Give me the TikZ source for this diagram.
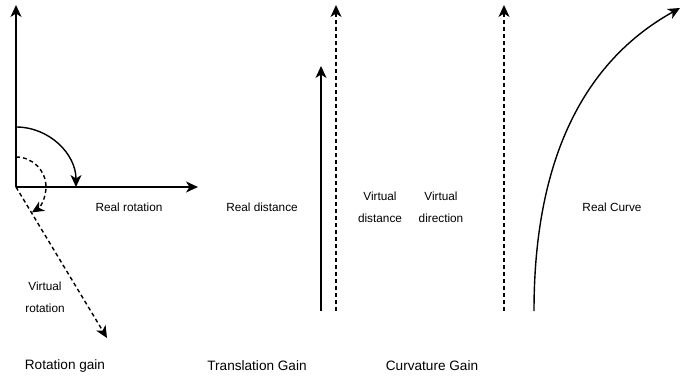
\documentclass[tikz,border=0pt]{standalone}
\usepackage{fontspec}
\setmainfont{Liberation Sans}
\usetikzlibrary{arrows.meta}
\begin{document}
\begin{tikzpicture}[x=1pt,y=1pt,
  arr/.style={line width=1.4pt,-{Stealth[length=12pt,width=11pt,inset=3.5pt]}},
  dsh/.style={dash pattern=on 4pt off 3pt},
  lbl/.style={font=\fontsize{11.8}{22}\selectfont,align=center,inner sep=0pt},
  captxt/.style={font=\fontsize{13.6}{16}\selectfont,inner sep=0pt}]
\useasboundingbox (0,0) rectangle (682,-387);
% Rotation gain
\coordinate (o) at (16,-187);
\coordinate (ytop) at (16,-5);
\coordinate (xend) at (198,-187);
\coordinate (vend) at (107,-338);
\coordinate (a1) at (16,-127);
\coordinate (a2) at (16,-157);
\draw[arr] (o) -- (ytop);
\draw[arr] (o) -- (xend);
\draw[arr,dsh] (o) -- (vend);
\draw[arr] (a1) arc[start angle=90,end angle=0,radius=60];
\draw[arr,dsh] (a2) arc[start angle=90,end angle=-58,radius=30];
\node[lbl] (rr) at (129,-207) {Real rotation};
\node[lbl] (vr) at (45,-297) {Virtual\\rotation};
% Translation gain
\coordinate (rs) at (321,-311);
\coordinate (re) at (321,-66);
\coordinate (vs) at (336,-311);
\coordinate (ve) at (336,-5);
\draw[arr] (rs) -- (re);
\draw[arr,dsh] (vs) -- (ve);
\node[lbl] (rd) at (262,-207) {Real distance};
\node[lbl] (vd) at (380,-207) {Virtual\\distance};
% Curvature gain
\coordinate (ds) at (504,-311);
\coordinate (de) at (504,-5);
\coordinate (cs) at (534,-311);
\coordinate (ce) at (680,-8);
\draw[arr,dsh] (ds) -- (de);
\draw[arr] (cs) .. controls (534,-150) and (590,-58) .. (ce);
\node[lbl] (vdir) at (441,-207) {Virtual\\direction};
\node[lbl] (rc) at (612,-207) {Real Curve};
% captions
\node[captxt] (c1) at (65,-366) {Rotation gain};
\node[captxt] (c2) at (257,-366) {Translation Gain};
\node[captxt] (c3) at (432,-366) {Curvature Gain};
\end{tikzpicture}
\end{document}
